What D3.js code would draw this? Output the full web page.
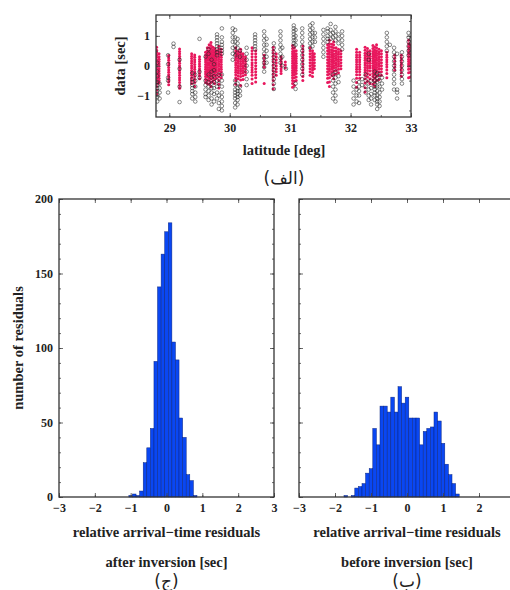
<!DOCTYPE html>
<html>
<head>
<meta charset="utf-8">
<title>residuals</title>
<script src="https://cdnjs.cloudflare.com/ajax/libs/d3/7.8.5/d3.min.js"></script>
<style>
  body { margin: 0; background: #fff; }
  svg { display: block; font-family: "Liberation Serif", serif; font-weight: bold; }
  .tick text { font-size: 12px; fill: #222; font-family: "Liberation Serif", serif; font-weight: bold; }
  .tick line { stroke: #444; stroke-width: 0.8; }
  .domain { display: none; }
</style>
</head>
<body>
<div id="chart"></div>
<script>
// histogram bin centres (width 0.1) and counts
var binWidth = 0.1;
var afterCenters = [-1.0,-0.9,-0.8,-0.7,-0.6,-0.5,-0.4,-0.3,-0.2,-0.1,0.0,0.1,0.2,0.3,0.4,0.5,0.6,0.7,0.8];
var afterCounts  = [1,2,1,4,23,33,46,91,141,163,178,184,104,92,53,40,15,11,1];
var beforeCenters = [-1.7,-1.6,-1.5,-1.4,-1.3,-1.2,-1.1,-1.0,-0.9,-0.8,-0.7,-0.6,-0.5,-0.4,-0.3,-0.2,-0.1,0.0,0.1,0.2,0.3,0.4,0.5,0.6,0.7,0.8,0.9,1.0,1.1,1.2,1.3,1.4];
var beforeCounts  = [1,0,1,6,7,9,16,19,46,35,61,61,57,67,57,74,63,67,53,53,53,35,44,46,47,57,51,36,22,15,9,2];

var histXTicks = [-3,-2,-1,0,1,2,3];
var histYTicks = [0,50,100,150,200];

// scatter columns: [latitude, [data values]]
var redColumns = [
  [28.79,[0.62,0.52,0.44,0.36,0.28,0.2,0.12,0.04,-0.04,-0.12,-0.2,-0.28,-0.36,-0.44,-0.52,-0.6,-0.7,-0.82,-0.95]],
  [28.83,[0.4,0.3,0.22,0.14,0.06,-0.02,-0.1,-0.18,-0.26,-0.34,-0.42,-0.5,-0.58]],
  [28.99,[0.34,0.26,0.18,0.1,0.02,-0.06,-0.14,-0.22,-0.3,-0.38,-0.46,-0.54,-0.64]],
  [29.17,[0.56,0.48,0.4,0.32,0.24,0.16,0.08,0,-0.08,-0.16,-0.24,-0.32,-0.4,-0.48,-0.56,-0.66,-0.76]],
  [29.37,[0.4,0.32,0.24,0.16,0.08,0,-0.08,-0.16,-0.24,-0.32,-0.4,-0.5,-0.6]],
  [29.42,[0.36,0.28,0.2,0.12,0.04,-0.04,-0.12,-0.2,-0.28,-0.36,-0.46,-0.56,-0.7]],
  [29.50,[0.3,0.22,0.14,0.06,-0.02,-0.1,-0.18,-0.26,-0.34,-0.44]],
  [29.60,[0.45,0.36,0.28,0.2,0.12,0.04,-0.04,-0.12,-0.2,-0.28,-0.36,-0.46,-0.56]],
  [29.63,[0.6,0.5,0.42,0.34,0.26,0.18,0.1,0.02,-0.06,-0.14,-0.22,-0.3,-0.38,-0.48,-0.6]],
  [29.66,[0.7,0.6,0.5,0.42,0.34,0.26,0.18,0.1,0.02,-0.06,-0.14,-0.22,-0.3,-0.4,-0.5,-0.62]],
  [29.69,[0.78,0.68,0.58,0.48,0.4,0.32,0.24,0.16,0.08,0,-0.08,-0.16,-0.24,-0.34,-0.44,-0.56,-0.7]],
  [29.72,[0.62,0.52,0.44,0.36,0.28,0.2,0.12,0.04,-0.04,-0.12,-0.2,-0.3,-0.4,-0.52]],
  [29.75,[0.58,0.48,0.4,0.32,0.24,0.16,0.08,0,-0.08,-0.16,-0.24,-0.34,-0.46,-0.6]],
  [29.78,[0.5,0.42,0.34,0.26,0.18,0.1,0.02,-0.06,-0.14,-0.22,-0.32,-0.42]],
  [29.82,[0.65,0.55,0.46,0.38,0.3,0.22,0.14,0.06,-0.02,-0.1,-0.18,-0.28,-0.38,-0.5,-0.62,-0.75]],
  [29.86,[0.55,0.45,0.36,0.28,0.2,0.12,0.04,-0.04,-0.12,-0.2,-0.3,-0.4]],
  [30.10,[0.6,0.5,0.42,0.34,0.26,0.18,0.1,0.02,-0.06,-0.14,-0.22,-0.3,-0.4,-0.5,-0.62]],
  [30.14,[0.48,0.4,0.32,0.24,0.16,0.08,0,-0.08,-0.16,-0.24,-0.34,-0.44]],
  [30.18,[0.55,0.46,0.38,0.3,0.22,0.14,0.06,-0.02,-0.1,-0.18,-0.26,-0.36,-0.48,-0.66]],
  [30.22,[0.4,0.32,0.24,0.16,0.08,0,-0.08,-0.16,-0.24,-0.34,-0.46]],
  [30.26,[0.3,0.22,0.14,0.06,-0.02,-0.1,-0.2,-0.3]],
  [30.37,[0.6,0.5,0.4,0.3,0.2,0.1,0.02,-0.06,-0.14,-0.22,-0.32,-0.45,-0.6]],
  [30.43,[0.5,0.4,0.3,0.2,0.1,0,-0.1,-0.2,-0.3,-0.4,-0.55]],
  [30.57,[0.35,0.25,0.15,0.05,-0.05,-0.6]],
  [30.72,[0.62,0.52,0.42,0.32,0.22,0.12,0.02,-0.08,-0.18,-0.28,-0.38,-0.5,-0.64,-0.78]],
  [30.77,[0.4,0.3,0.2,0.1,0,-0.1,-0.2,-0.32]],
  [30.85,[0.3,0.22,0.14,0.06,-0.02,-0.1,-0.18,-0.26]],
  [30.92,[0.12,0.02,-0.08]],
  [31.04,[0.68,0.58,0.48,0.4,0.32,0.24,0.16,0.08,0,-0.08,-0.16,-0.24,-0.32,-0.4,-0.5,-0.6,-0.72]],
  [31.07,[0.6,0.5,0.42,0.34,0.26,0.18,0.1,0.02,-0.06,-0.14,-0.22,-0.3,-0.4,-0.52,-0.66]],
  [31.10,[0.5,0.4,0.32,0.24,0.16,0.08,0,-0.08,-0.16,-0.26,-0.38,-0.5]],
  [31.21,[0.66,0.56,0.46,0.36,0.26,0.16,0.06,-0.04,-0.14,-0.24,-0.36,-0.5]],
  [31.33,[0.6,0.5,0.4,0.3,0.2,0.1,0,-0.1,-0.2,-0.32]],
  [31.37,[0.5,0.42,0.34,0.26,0.18,0.1,0.02,-0.06,-0.14,-0.24,-0.36]],
  [31.40,[0.4,0.3,0.2,0.1,0,-0.1]],
  [31.62,[0.7,0.6,0.5,0.4,0.3,0.2,0.1,0,-0.1,-0.2,-0.3,-0.42,-0.56]],
  [31.65,[0.85,0.74,0.64,0.54,0.46,0.38,0.3,0.22,0.14,0.06,-0.02,-0.1,-0.18,-0.28,-0.4,-0.55,-0.7]],
  [31.69,[0.72,0.62,0.52,0.44,0.36,0.28,0.2,0.12,0.04,-0.04,-0.12,-0.22,-0.34]],
  [31.72,[0.8,0.7,0.6,0.5,0.4,0.32,0.24,0.16,0.08,0,-0.08,-0.18,-0.3,-0.44]],
  [31.76,[0.6,0.5,0.42,0.34,0.26,0.18,0.1,0.02,-0.06,-0.16,-0.28]],
  [31.80,[0.55,0.46,0.38,0.3,0.22,0.14,0.06,-0.02,-0.12,-0.24]],
  [31.84,[0.5,0.4,0.3,0.2,0.1,0,-0.1]],
  [32.10,[0.55,0.45,0.36,0.28,0.2,0.12,0.04,-0.04,-0.12,-0.2,-0.3,-0.42,-0.56,-0.72]],
  [32.15,[0.45,0.36,0.28,0.2,0.12,0.04,-0.04,-0.12,-0.2,-0.3,-0.42]],
  [32.24,[0.62,0.52,0.42,0.34,0.26,0.18,0.1,0.02,-0.06,-0.14,-0.22,-0.32,-0.44,-0.58,-0.74,-0.88]],
  [32.28,[0.58,0.48,0.4,0.32,0.24,0.16,0.08,0,-0.08,-0.16,-0.26,-0.38,-0.52]],
  [32.32,[0.5,0.4,0.32,0.24,0.16,0.08,0,-0.08,-0.18,-0.3,-0.44,-0.6]],
  [32.37,[0.68,0.58,0.48,0.4,0.32,0.24,0.16,0.08,0,-0.08,-0.16,-0.26,-0.36,-0.48,-0.62]],
  [32.40,[0.62,0.52,0.44,0.36,0.28,0.2,0.12,0.04,-0.04,-0.12,-0.2,-0.3,-0.42,-0.56,-0.7]],
  [32.43,[0.7,0.6,0.5,0.42,0.34,0.26,0.18,0.1,0.02,-0.06,-0.14,-0.24,-0.36,-0.5]],
  [32.47,[0.55,0.46,0.38,0.3,0.22,0.14,0.06,-0.02,-0.1,-0.2,-0.32,-0.46]],
  [32.51,[0.5,0.4,0.3,0.2,0.1,0,-0.1,-0.2,-0.32]],
  [32.60,[0.45,0.36,0.28,0.2,0.12,0.04,-0.04,-0.14,-0.26,-0.4]],
  [32.73,[0.35,0.25,0.15,0.05,-0.05,-0.15]],
  [32.84,[0.35,0.26,0.18,0.1,0.02,-0.06,-0.14,-0.24,-0.35]],
  [32.96,[0.85,0.74,0.64,0.54,0.46,0.38,0.3,0.22,0.14,0.06,-0.02,-0.12,-0.24,-0.4]],
  [32.99,[0.7,0.6,0.5,0.4,0.3,0.2,0.1,0,-0.1,-0.22,-0.38]]
];
var blackColumns = [
  [28.80,[-0.55,-0.65,-0.75,-0.85,-0.95,-1.05,-1.2,0.1,-0.2,-0.35]],
  [28.84,[-0.6,-0.75,-0.9,-1.1]],
  [28.98,[0.35,0.05,-0.4,-0.5,-0.9]],
  [29.07,[0.74,0.63]],
  [29.17,[-0.7,-1.22,0.2,-0.1]],
  [29.38,[-0.25,-0.45,-0.55,-0.65,-0.75,-0.85,-0.95,-1.1]],
  [29.43,[-0.3,-0.5,-0.7,-0.9,-1.05,-1.2]],
  [29.50,[0.9,-0.2,-0.4]],
  [29.60,[0.3,-0.5,-0.65,-0.8,-0.95,-1.05]],
  [29.65,[0.55,0.4,-0.3,-0.55,-0.7,-0.85,-1.0,-1.15]],
  [29.70,[0.2,-0.2,-0.4,-0.6,-0.75,-0.9,-1.1,-1.3]],
  [29.74,[0.05,-0.15,-0.35,-0.55,-0.75,-0.95,-1.2]],
  [29.79,[1.05,0.95,0.85,0.75,0.65,0.55,0.45,0.35,-0.5,-0.7,-0.9,-1.1]],
  [29.82,[-0.3,-0.6,-1.0,-1.25,-1.45]],
  [29.87,[1.25,0.95,0.8,0.7,0.6,0.5,0.4,-0.3,-0.5,-0.7,-0.9,-1.05,-1.2,-1.35,-1.5]],
  [30.05,[1.25,1.1,0.95,0.8,0.6,0.4,0.2]],
  [30.09,[1.2,0.95,0.8,0.65,0.5,0.35,-0.5,-0.65,-0.8,-0.9,-1.0,-1.1,-1.25,-1.4]],
  [30.13,[0.9,0.75,0.6,-0.6,-0.75,-0.85,-0.95,-1.05,-1.15,-1.3]],
  [30.17,[0.5,0.3,-0.7,-0.85,-1.0]],
  [30.28,[0.6,0.4,0.2,0,-0.2,-0.45,-0.65]],
  [30.42,[1.05,0.95,0.85,0.75,0.65,0.55]],
  [30.57,[1.15,1.0,0.85,0.7,0.55,0.4,0.25,0.1,-0.05,-0.2]],
  [30.61,[0.9,0.7,0.5,0.3,0.1]],
  [30.73,[0.75,0.6,0.45,0.3,0.15,0,-0.15,-0.3,-0.45,-0.6,-0.78]],
  [30.84,[1.15,1.0,0.85,0.7,0.55,0.4,0.25,0.1]],
  [30.87,[0.6,0.3,0]],
  [30.93,[-0.1]],
  [31.06,[1.35,1.25,1.15,1.05,0.95,0.85,0.75,0.65]],
  [31.09,[1.2,1.0,0.85,0.7,-0.6,-0.78]],
  [31.20,[1.25,1.1,0.95,0.8,0.65,0.5,0.35,0.2,0.05,-0.1,-0.3]],
  [31.33,[1.35,1.2,1.05,0.9,0.75,0.6]],
  [31.37,[1.42,1.25,1.1,0.95,0.8,0.65]],
  [31.41,[1.1,0.95,0.8]],
  [31.55,[1.2,1.05,0.9,0.75,0.6,0.45,0.3]],
  [31.62,[1.25,1.15,1.0,0.9,0.8]],
  [31.67,[1.4,1.2,1.05,0.9]],
  [31.71,[1.1,0.95,-0.3,-0.5,-0.7,-0.9,-1.1]],
  [31.75,[1.3,1.15,1.0,0.85,-0.2,-0.4,-0.6,-0.8,-1.0,-1.2]],
  [31.80,[1.05,0.9,0.75,-0.35,-0.55]],
  [31.86,[1.15,1.0,0.85,0.7,0.55]],
  [32.05,[-0.5,-0.7,-0.9,-1.1,-1.3]],
  [32.10,[-0.8,-1.0,-1.2]],
  [32.14,[-0.55,-0.7,-0.85,-1.0,-1.25]],
  [32.19,[-0.45,-0.65]],
  [32.25,[-0.3,-0.5,-0.7,-0.9]],
  [32.30,[0.4,0.2,-0.6,-0.8,-1.0,-1.15]],
  [32.34,[-0.5,-0.75,-0.95,-1.1,-1.3]],
  [32.40,[-0.2,-0.35,-0.5,-0.6,-0.7,-0.8,-0.9,-1.0,-1.15]],
  [32.44,[-0.25,-0.4,-0.55,-0.7,-0.85,-1.0,-1.1,-1.2,-1.3,-1.45]],
  [32.48,[-0.3,-0.5,-0.7,-0.9,-1.05,-1.2,-1.35]],
  [32.52,[-0.4,-0.6,-0.8]],
  [32.60,[1.1,0.95,0.8,0.65,0.5]],
  [32.65,[0.7]],
  [32.72,[0.6,0.45,0.3,0.15,0,-0.15,-0.3,-0.45,-0.6,-0.8]],
  [32.77,[0.4,-0.8,-0.9,-1.1]],
  [32.85,[0.45,0.3,0.15,0,-0.15,-0.3,-0.45,-0.6]],
  [32.96,[1.1,0.95,0.8,0.65,0.5,0.35]],
  [33.00,[0.9,0.75]]
];
var latTicks = [29,30,31,32,33];
var latMinor = [29,29.5,30,30.5,31,31.5,32,32.5,33];
var dataTicks = [-1,0,1];
var dataMinor = [-1.5,-1,-0.5,0,0.5,1,1.5];

var W = 510, H = 590;
var svg = d3.select("#chart").append("svg").attr("width", W).attr("height", H);

function axes(g, x, y, o) {
  var yb = y.range()[0], yt = y.range()[1], xl = x.range()[0], xr = x.range()[1];
  var xf = function (d) { return (d > o.xLabelMax) ? "" : d3.format("d")(d); };
  // minor ticks all four sides
  g.append("g").attr("transform", "translate(0," + yb + ")").call(d3.axisBottom(x).tickValues(o.xMinor).tickSize(-2).tickFormat(""));
  g.append("g").attr("transform", "translate(0," + yt + ")").call(d3.axisTop(x).tickValues(o.xMinor).tickSize(-2).tickFormat(""));
  g.append("g").attr("transform", "translate(" + xl + ",0)").call(d3.axisLeft(y).tickValues(o.yMinor).tickSize(-2).tickFormat(""));
  g.append("g").attr("transform", "translate(" + xr + ",0)").call(d3.axisRight(y).tickValues(o.yMinor).tickSize(-2).tickFormat(""));
  // major ticks
  g.append("g").attr("transform", "translate(0," + yb + ")").call(d3.axisBottom(x).tickValues(o.xMajor).tickSize(-4).tickPadding(6).tickFormat(xf));
  g.append("g").attr("transform", "translate(0," + yt + ")").call(d3.axisTop(x).tickValues(o.xMajor).tickSize(-4).tickFormat(""));
  g.append("g").attr("transform", "translate(" + xl + ",0)").call(d3.axisLeft(y).tickValues(o.yMajor).tickSize(-4).tickPadding(6).tickFormat(o.yLabels ? d3.format("d") : ""));
  g.append("g").attr("transform", "translate(" + xr + ",0)").call(d3.axisRight(y).tickValues(o.yMajor).tickSize(-4).tickFormat(""));
  g.append("rect").attr("x", xl).attr("y", yt).attr("width", xr - xl).attr("height", yb - yt)
    .attr("fill", "none").attr("stroke", "#333").attr("stroke-width", 1.3);
}

function label(x, y, txt, size, rot, family) {
  var t = svg.append("text").attr("text-anchor", "middle").attr("fill", "#222")
    .style("font-size", size + "px").text(txt);
  if (family) t.style("font-family", family).style("font-weight", "normal");
  if (rot) t.attr("transform", "translate(" + x + "," + y + ") rotate(-90)");
  else t.attr("x", x).attr("y", y);
  return t;
}

// ---- top scatter ----
var sx = d3.scaleLinear().domain([28.78, 33.0]).range([156, 411]);
var sy = d3.scaleLinear().domain([-1.72, 1.7]).range([117, 15]);
svg.append("clipPath").attr("id", "sclip").append("rect")
  .attr("x", 156).attr("y", 15).attr("width", 255).attr("height", 102);
var pts = svg.append("g").attr("clip-path", "url(#sclip)");
function flat(cols) {
  var out = [];
  cols.forEach(function (c) { c[1].forEach(function (v) { out.push([c[0], v]); }); });
  return out;
}
pts.selectAll("circle.r").data(flat(redColumns)).join("circle").attr("class", "r")
  .attr("cx", function (d) { return sx(d[0]); }).attr("cy", function (d) { return sy(d[1]); })
  .attr("r", 1.5).attr("fill", "#e8175d");
pts.selectAll("circle.b").data(flat(blackColumns)).join("circle").attr("class", "b")
  .attr("cx", function (d) { return sx(d[0]); }).attr("cy", function (d) { return sy(d[1]); })
  .attr("r", 1.8).attr("fill", "none").attr("stroke", "#222").attr("stroke-width", 0.55);
axes(svg.append("g"), sx, sy, { xMajor: latTicks, xMinor: latMinor, yMajor: dataTicks, yMinor: dataMinor, yLabels: true, xLabelMax: 99 });
label(125, 66, "data [sec]", 14.5, true);
label(284, 155, "latitude [deg]", 14.5);
label(284, 184, "(الف)", 17, false, "DejaVu Sans");

// ---- histograms ----
var hy = d3.scaleLinear().domain([0, 200]).range([497, 199]);
var yMinorH = d3.range(0, 201, 10);

function hist(x, centers, counts) {
  var g = svg.append("g");
  g.selectAll("rect").data(centers).join("rect")
    .attr("x", function (c) { return x(c - binWidth / 2); })
    .attr("width", function (c) { return x(c + binWidth / 2) - x(c - binWidth / 2); })
    .attr("y", function (c, i) { return hy(counts[i]); })
    .attr("height", function (c, i) { return hy(0) - hy(counts[i]); })
    .attr("fill", "#0a47f2").attr("stroke", "#0b2580").attr("stroke-width", 0.5);
}

var lx = d3.scaleLinear().domain([-3, 3]).range([59, 274]);
hist(lx, afterCenters, afterCounts);
axes(svg.append("g"), lx, hy, { xMajor: histXTicks, xMinor: histXTicks, yMajor: histYTicks, yMinor: yMinorH, yLabels: true, xLabelMax: 99 });
label(23, 348, "number of residuals", 14.5, true);
label(166.5, 537, "relative arrival\u2212time residuals", 14.5);
label(166.5, 567, "after inversion [sec]", 14.5);
label(166.5, 587, "(ج)", 17, false, "DejaVu Sans");

var rx = d3.scaleLinear().domain([-3, 3]).range([299, 515]);
hist(rx, beforeCenters, beforeCounts);
axes(svg.append("g"), rx, hy, { xMajor: histXTicks, xMinor: histXTicks, yMajor: histYTicks, yMinor: yMinorH, yLabels: false, xLabelMax: 2 });
label(407, 537, "relative arrival\u2212time residuals", 14.5);
label(407, 567, "before inversion [sec]", 14.5);
label(407, 587, "(ب)", 17, false, "DejaVu Sans");
</script>
</body>
</html>
